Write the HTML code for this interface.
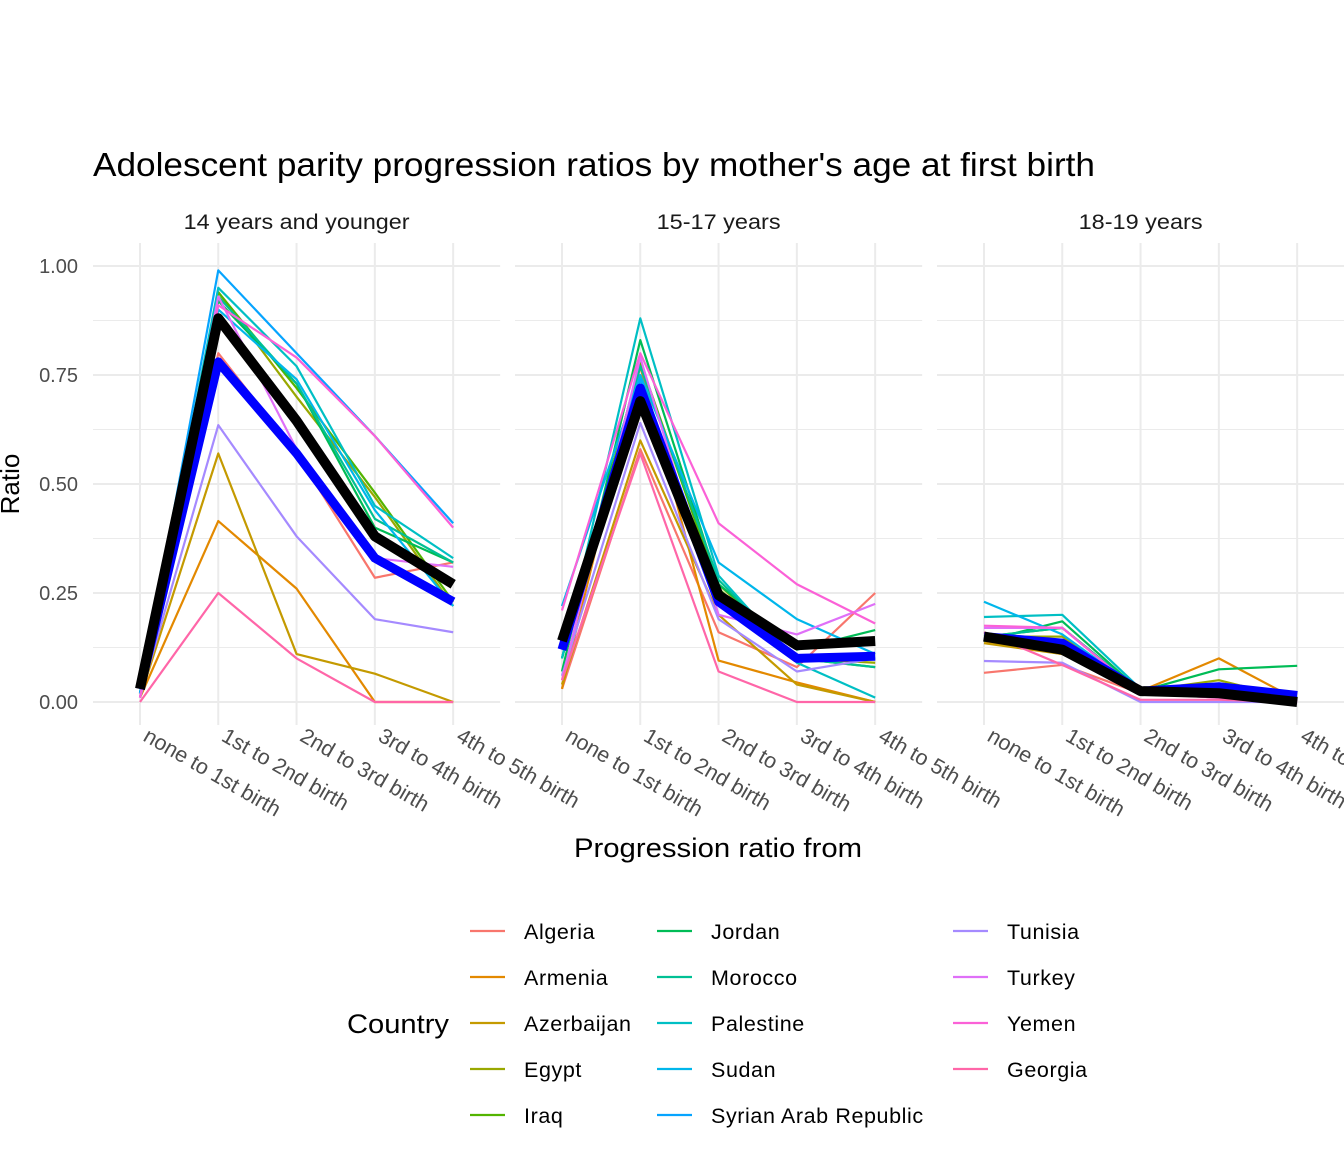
<!DOCTYPE html>
<html><head><meta charset="utf-8"><style>
body{margin:0;background:#fff;}
svg text{font-family:"Liberation Sans",Arial,sans-serif;}
</style></head><body>
<svg id="chart" width="1344" height="1152" xmlns="http://www.w3.org/2000/svg">
<text x="93" y="176" font-size="33" textLength="1002" lengthAdjust="spacingAndGlyphs" fill="#000">Adolescent parity progression ratios by mother's age at first birth</text>
<text transform="translate(19,484) rotate(-90)" text-anchor="middle" font-size="26" fill="#000">Ratio</text>
<text x="574" y="857" font-size="27" textLength="288" lengthAdjust="spacingAndGlyphs" fill="#000">Progression ratio from</text>
<g id="panels"></g>
<g id="legend"></g>
</svg>
<script>
const categories=["none to 1st birth","1st to 2nd birth","2nd to 3rd birth","3rd to 4th birth","4th to 5th birth"];
const panelNames=["14 years and younger","15-17 years","18-19 years"];
const yTicks=[0,0.25,0.5,0.75,1.0];
const yTickLabels=["0.00","0.25","0.50","0.75","1.00"];
const countries=["Algeria","Armenia","Azerbaijan","Egypt","Iraq","Jordan","Morocco","Palestine","Sudan","Syrian Arab Republic","Tunisia","Turkey","Yemen","Georgia"];
const colors=["#F8766D","#E38900","#C49A00","#99A800","#53B400","#00BC56","#00C094","#00BFC4","#00B6EB","#06A4FF","#A58AFF","#DF70F8","#FB61D7","#FF66A8"];
const p1=[[0.01,0.80,0.57,0.285,0.32],[0.01,0.415,0.26,0,0],[0.01,0.57,0.11,0.065,0],[0.02,0.94,0.70,0.47,0.22],[0.02,0.94,0.72,0.48,0.23],[0.02,0.92,0.73,0.40,0.32],[0.02,0.93,0.73,0.42,0.32],[0.02,0.95,0.77,0.45,0.33],[0.02,0.90,0.74,0.44,0.22],[0.02,0.99,0.80,0.61,0.41],[0.01,0.635,0.38,0.19,0.16],[0.01,0.93,0.58,0.33,0.31],[0.01,0.91,0.79,0.61,0.40],[0.0,0.25,0.10,0,0]];
const p2=[[0.03,0.58,0.16,0.08,0.25],[0.03,0.77,0.095,0.045,0],[0.04,0.60,0.20,0.04,0],[0.10,0.78,0.27,0.10,0.09],[0.10,0.78,0.26,0.10,0.08],[0.07,0.83,0.27,0.12,0.165],[0.10,0.77,0.28,0.10,0.08],[0.10,0.88,0.29,0.09,0.01],[0.22,0.75,0.32,0.19,0.11],[0.12,0.74,0.23,0.10,0.10],[0.06,0.64,0.19,0.07,0.10],[0.05,0.79,0.20,0.155,0.225],[0.21,0.80,0.41,0.27,0.18],[0.05,0.57,0.07,0,0]];
const p3=[[0.067,0.085,0.02,0.01,0.005],[0.14,0.11,0.025,0.10,0.005],[0.135,0.11,0.025,0.03,0.005],[0.15,0.15,0.025,0.05,0.005],[0.15,0.17,0.025,0.04,0.005],[0.14,0.185,0.025,0.075,0.083],[0.15,0.17,0.025,0.035,0.005],[0.195,0.20,0.03,0.04,0.01],[0.23,0.155,0.025,0.03,0.01],[0.15,0.14,0.025,0.03,0.01],[0.094,0.09,0.0,0.0,0.0],[0.17,0.17,0.02,0.01,0.005],[0.175,0.17,0.02,0.01,0.005],[0.16,0.085,0.005,0.005,0.0]];
const panelData=[p1,p2,p3];
const blueSeries=[[0.03,0.78,0.57,0.33,0.23],[0.12,0.72,0.23,0.10,0.105],[0.15,0.135,0.025,0.035,0.015]];
const blackSeries=[[0.03,0.88,0.645,0.38,0.27],[0.14,0.69,0.245,0.13,0.14],[0.15,0.12,0.025,0.02,0.0]];

const NS="http://www.w3.org/2000/svg";
const step=78.3, panelW=5.2*step, panelLefts=[93,515,937];
const y0=702, yScale=436;
function yPos(v){return y0-v*yScale;}
function xPos(p,i){return panelLefts[p]+0.6*step+i*step;}
function mk(tag,attrs,parent){const e=document.createElementNS(NS,tag);for(const k in attrs)e.setAttribute(k,attrs[k]);parent.appendChild(e);return e;}
const svg=document.getElementById('chart');
const panels=document.getElementById('panels');
const stripW=[226,124,124];
for(let p=0;p<3;p++){
  const g=mk('g',{},panels);
  
  
  const L=panelLefts[p],R=L+panelW,T=243,B=725;
  for(let v=-0.125;v<=1.126;v+=0.125){const yy=yPos(v);if(yy<T||yy>B)continue;
    const major=Math.abs((v/0.25)-Math.round(v/0.25))<1e-6;
    mk('line',{x1:L,x2:R,y1:yy,y2:yy,stroke:'#ebebeb','stroke-width':major?2:1},g);}
  for(let i=0;i<5;i++){const xx=xPos(p,i);mk('line',{x1:xx,x2:xx,y1:T,y2:B,stroke:'#ebebeb','stroke-width':2},g);
    const t=mk('text',{x:0,y:0,'font-size':21.5,fill:'#4d4d4d',transform:`translate(${xx+2},${740}) rotate(30)`},g);
    
    
    t.textContent=categories[i];}
  const st=mk('text',{x:(L+R)/2,y:229,'text-anchor':'middle','font-size':21,fill:'#1a1a1a',textLength:stripW[p],lengthAdjust:'spacingAndGlyphs'},g);
  
  
  st.textContent=panelNames[p];
  const data=panelData[p];
  data.forEach((s,ci)=>{const pl=mk('polyline',{points:s.map((v,i)=>xPos(p,i)+','+yPos(v)).join(' '),fill:'none',stroke:colors[ci],'stroke-width':2.2,'stroke-linejoin':'round'},g);
    
    });
  const bl=mk('polyline',{points:blueSeries[p].map((v,i)=>xPos(p,i)+','+yPos(v)).join(' '),fill:'none',stroke:'#0000ff','stroke-width':9,'stroke-linejoin':'round'},g);
  
  
  const bk=mk('polyline',{points:blackSeries[p].map((v,i)=>xPos(p,i)+','+yPos(v)).join(' '),fill:'none',stroke:'#000','stroke-width':10,'stroke-linejoin':'round'},g);
  
  
}
yTicks.forEach((v,i)=>{const t=mk('text',{x:78,y:yPos(v)+7,'text-anchor':'end','font-size':20,fill:'#4d4d4d'},svg);
  
  
  t.textContent=yTickLabels[i];});
const lg=document.getElementById('legend');
const lt=mk('text',{x:347,y:1033,'font-size':27,fill:'#000',textLength:102,lengthAdjust:'spacingAndGlyphs'},lg);


lt.textContent='Country';
const colX=[470,657,953];
countries.forEach((c,i)=>{const col=Math.floor(i/5),row=i%5;const yy=931+row*46;
  const e=mk('g',{},lg);
  
  
  mk('line',{x1:colX[col],x2:colX[col]+35,y1:yy,y2:yy,stroke:colors[i],'stroke-width':2.2},e);
  const t=mk('text',{x:colX[col]+54,y:yy+8,'font-size':21.5,fill:'#000','letter-spacing':'0.6'},e);t.textContent=c;});
</script>
</body></html>
